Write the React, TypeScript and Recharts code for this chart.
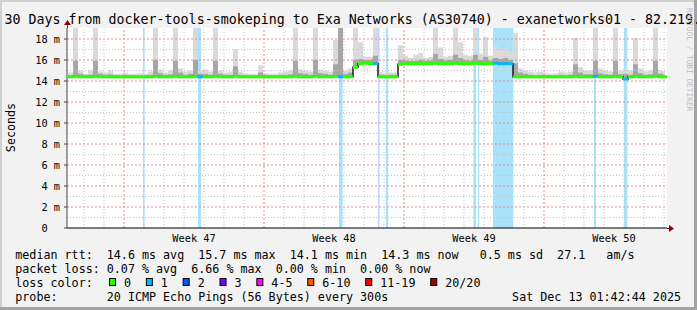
import React from 'react';
import {
  ComposedChart,
  XAxis,
  YAxis,
  Area,
  Line,
  Scatter,
  ReferenceArea,
  ReferenceLine,
  CartesianGrid,
} from 'recharts';

const MONO = "'DejaVu Sans Mono', monospace";

// ---------- data ----------
const weekLabels = ['Week 47', 'Week 48', 'Week 49', 'Week 50'];
const yTickValues = [0, 2, 4, 6, 8, 10, 12, 14, 16, 18];

// one sample every 6 hours over 30 days (median rtt, ms)
const medianMs = [
  14.4, 14.45, 14.4, 14.4, 14.4, 14.45, 14.4, 14.4, 14.4, 14.4,
  14.4, 14.4, 14.4, 14.4, 14.4, 14.4, 14.4, 14.45, 14.4, 14.4,
  14.4, 14.45, 14.4, 14.4, 14.4, 14.45, 14.4, 14.4, 14.4, 14.45,
  14.4, 14.4, 14.4, 14.45, 14.4, 14.4, 14.4, 14.4, 14.4, 14.4,
  14.4, 14.4, 14.4, 14.4, 14.4, 14.45, 14.4, 14.4, 14.4, 14.45,
  14.4, 14.4, 14.4, 14.45, 14.4, 14.4, 14.4, 15.3, 15.65, 15.7,
  15.65, 15.65, 14.4, 14.4, 14.4, 14.4, 15.6, 15.65, 15.65, 15.65,
  15.65, 15.65, 15.65, 15.7, 15.65, 15.65, 15.65, 15.7, 15.65, 15.65,
  15.65, 15.7, 15.65, 15.65, 15.65, 15.7, 15.65, 15.65, 15.65, 14.4,
  14.4, 14.4, 14.4, 14.4, 14.4, 14.4, 14.4, 14.4, 14.4, 14.4,
  14.4, 14.45, 14.4, 14.4, 14.4, 14.45, 14.4, 14.4, 14.4, 14.45,
  14.4, 14.2, 14.4, 14.45, 14.4, 14.4, 14.4, 14.45, 14.4, 14.4,
];

// top of the dense (darker) smoke, ms
const smokeMidMs = [
  14.55, 15.9, 14.7, 14.55, 14.6, 15.9, 14.7, 14.6, 14.65, 14.55,
  14.55, 14.6, 14.55, 14.55, 14.55, 14.55, 14.6, 16.0, 14.75, 14.6,
  14.65, 15.9, 14.8, 14.6, 14.7, 16.0, 14.7, 14.7, 14.6, 15.9,
  14.7, 14.6, 14.6, 15.4, 14.6, 14.55, 14.55, 14.55, 14.8, 14.55,
  14.55, 14.55, 14.6, 14.6, 14.65, 15.9, 14.75, 14.7, 14.6, 16.0,
  14.75, 14.7, 14.6, 15.6, 19.5, 14.7, 14.8, 16.0, 16.1, 16.0,
  16.0, 16.4, 14.6, 14.55, 14.6, 14.6, 16.0, 15.95, 15.9, 15.9,
  16.0, 15.9, 15.95, 16.6, 16.1, 15.95, 16.0, 16.5, 16.2, 16.0,
  15.95, 16.5, 16.0, 16.3, 15.95, 16.2, 16.1, 16.2, 16.0, 15.7,
  14.8, 14.7, 14.6, 14.55, 14.6, 14.55, 14.55, 14.55, 14.6, 14.55,
  14.6, 15.6, 14.8, 14.65, 14.65, 15.9, 14.75, 14.65, 14.6, 15.9,
  14.65, 14.7, 14.6, 15.6, 14.75, 14.6, 14.65, 15.9, 14.7, 14.6,
];

// max of the smoke, ms
const smokeHiMs = [
  14.8, 19.5, 15.0, 14.7, 15.0, 19.5, 14.9, 14.8, 15.0, 14.7,
  14.7, 14.8, 14.7, 14.7, 14.75, 14.7, 14.9, 19.5, 15.1, 14.8,
  15.0, 19.5, 15.2, 14.9, 15.0, 19.5, 15.0, 15.1, 14.9, 19.5,
  15.0, 14.8, 14.9, 17.0, 14.9, 14.75, 14.7, 14.7, 15.5, 14.75,
  14.7, 14.7, 14.8, 14.9, 15.0, 19.5, 15.1, 15.0, 14.9, 19.5,
  15.1, 15.0, 14.9, 17.9, 19.5, 15.0, 15.2, 19.5, 17.7, 16.3,
  16.3, 19.5, 14.9, 14.75, 14.8, 14.8, 17.4, 16.4, 16.2, 16.5,
  16.7, 16.2, 16.3, 19.5, 17.2, 16.3, 16.4, 19.5, 17.7, 16.5,
  16.4, 19.5, 16.6, 18.2, 16.4, 17.3, 17.0, 17.2, 16.8, 18.6,
  15.2, 15.0, 14.9, 14.8, 14.9, 14.8, 14.7, 14.75, 14.9, 14.8,
  14.9, 18.1, 15.3, 15.0, 15.0, 19.5, 15.2, 15.0, 14.9, 19.5,
  15.0, 15.1, 15.0, 18.1, 15.2, 14.9, 15.0, 19.5, 15.0, 14.9,
];

// lost pings (of 20) per sample
const lossCount = [
  0, 0, 0, 0, 0, 0, 0, 0, 0, 0,
  0, 0, 0, 0, 0, 0, 0, 0, 0, 0,
  0, 0, 0, 0, 0, 0, 1, 0, 0, 0,
  0, 0, 0, 0, 0, 0, 0, 0, 0, 0,
  0, 0, 0, 0, 0, 0, 0, 0, 0, 0,
  0, 0, 0, 0, 1, 0, 0, 0, 0, 0,
  0, 1, 0, 0, 0, 0, 0, 0, 0, 0,
  0, 0, 0, 0, 0, 0, 0, 0, 0, 0,
  0, 0, 0, 0, 0, 1, 1, 1, 1, 0,
  0, 0, 0, 0, 0, 0, 0, 0, 0, 0,
  0, 0, 0, 0, 0, 1, 0, 0, 0, 0,
  0, 1, 0, 0, 0, 0, 0, 0, 0, 0,
];

// loss background periods: [start day, end day, lost pings]
const lossBands: [number, number, number][] = [
  [3.8, 3.88, 1],
  [6.55, 6.7, 1],
  [13.6, 13.78, 1],
  [15.56, 15.62, 2],
  [15.94, 16.06, 1],
  [20.32, 20.45, 1],
  [20.54, 20.61, 1],
  [21.3, 22.32, 1],
  [26.35, 26.45, 1],
  [27.85, 28.02, 1],
];

const lossLegendLabels = ['0', '1', '2', '3', '4-5', '6-10', '11-19', '20/20'];
const lossLegendColors = ['#26ff00', '#00b8ff', '#0059ff', '#7e00ff', '#ff00ff', '#ff5500', '#ff0000', '#a10000'];
const lossLegendMax = [0, 1, 2, 3, 5, 10, 19, 20];

// ---------- derived ----------
const SAMPLE_DAYS = 0.25;
const SAMPLE_OFFSET = 0.05;
const Y_MAX = 19.05;
const FIRST_WEEK_LINE = 2.85;

const rows: any[] = medianMs.map((m, i) => ({
  t: SAMPLE_OFFSET + SAMPLE_DAYS * i,
  median: m,
  loss: lossCount[i],
  hiBand: [m, smokeHiMs[i]],
  midBand: [m, smokeMidMs[i]],
}));
{
  const last = rows[rows.length - 1];
  rows.push({ ...last, t: 29.9, tail: true });
}

const lossColor = (n: number) => {
  for (let i = 0; i < lossLegendMax.length; i++) if (n <= lossLegendMax[i]) return lossLegendColors[i];
  return lossLegendColors[lossLegendColors.length - 1];
};
const bandFill = (n: number) => (n <= 1 ? '#a9e3fb' : '#b2c6ff');

const weekTicks = weekLabels.map((_, i) => FIRST_WEEK_LINE + 3.5 + 7 * i);
const dayLines = Array.from({ length: 30 }, (_, i) => FIRST_WEEK_LINE - 2 + i).filter((d) => d > 0 && d < 30);
const msLines = Array.from({ length: 18 }, (_, i) => i + 1);
const isWeekLine = (d: number) => {
  const w = (d - FIRST_WEEK_LINE) / 7;
  return Math.abs(w - Math.round(w)) < 1e-6;
};

const XTick = (p: any) => (
  <text x={p.x} y={p.y + 14} textAnchor="middle" fontFamily={MONO} fontSize={10.3} fill="#000">
    {weekLabels[weekTicks.indexOf(p.payload.value)]}
  </text>
);

const DayTick = (p: any) => {
  const major = isWeekLine(p.payload.value);
  return <line x1={p.x} x2={p.x} y1={229} y2={major ? 232 : 231} stroke={major ? '#d04040' : '#b0b0b0'} strokeWidth={1} />;
};

const YTick = (p: any) => {
  const v = p.payload.value;
  return (
    <text x={v === 0 ? p.x - 12.4 : p.x} y={p.y} dy="0.36em" textAnchor="end" fontFamily={MONO} fontSize={10.3} fill="#000">
      {v === 0 ? '0' : `${v} m`}
    </text>
  );
};

const MedianDash = (p: any) => {
  if (p.payload?.tail || p.cx == null) return <g />;
  return <rect x={p.cx} y={p.cy - 1.5} width={5} height={3} fill={lossColor(p.payload.loss)} />;
};

const statsLine1 = 'median rtt:  14.6 ms avg  15.7 ms max  14.1 ms min  14.3 ms now   0.5 ms sd  27.1   am/s';
const statsLine2 = 'packet loss: 0.07 % avg  6.66 % max  0.00 % min  0.00 % now';
const probeLine = 'probe:       20 ICMP Echo Pings (56 Bytes) every 300s';
const dateText = 'Sat Dec 13 01:42:44 2025';
const titleText = '30 Days from docker-tools-smokeping to Exa Networks (AS30740) - exanetworks01 - 82.219.';

export default function App() {
  const legendItems: { sx: number; lx: number; label: string; color: string }[] = [];
  let x = 109;
  lossLegendLabels.forEach((label, i) => {
    legendItems.push({ sx: x, lx: x + 15, label, color: lossLegendColors[i] });
    x = x + 15 + label.length * 7.04 + 14.8;
  });

  return (
    <div style={{ position: 'absolute', left: 0, top: 0, width: 697, height: 310, background: '#f2f2f2', overflow: 'hidden' }}>
      <ComposedChart width={697} height={310} data={rows} margin={{ top: 28, right: 30, bottom: 62, left: 0 }}>
        <CartesianGrid horizontal={false} vertical={false} fill="#ffffff" stroke="none" />
        {lossBands.map((b, i) => (
          <ReferenceArea key={'b' + i} x1={b[0]} x2={b[1]} y1={0} y2={Y_MAX} fill={bandFill(b[2])} fillOpacity={1} stroke="none" ifOverflow="hidden" />
        ))}
        <Area type="stepAfter" dataKey="hiBand" stroke="none" fill="#dadada" fillOpacity={1} isAnimationActive={false} dot={false} activeDot={false} />
        <Area type="stepAfter" dataKey="midBand" stroke="none" fill="#a6a6a6" fillOpacity={1} isAnimationActive={false} dot={false} activeDot={false} />
        {msLines.map((v) => (
          <ReferenceLine
            key={'h' + v}
            y={v}
            stroke={v % 2 === 0 ? '#e08c8c' : '#c4c4c4'}
            strokeWidth={1}
            strokeDasharray={v % 2 === 0 ? '2 2' : '1 2'}
            ifOverflow="visible"
          />
        ))}
        {dayLines.map((d, i) => (
          <ReferenceLine
            key={'v' + i}
            x={d}
            stroke={isWeekLine(d) ? '#e08c8c' : '#c4c4c4'}
            strokeWidth={1}
            strokeDasharray={isWeekLine(d) ? '2 2' : '1 2'}
            ifOverflow="visible"
          />
        ))}
        <Line type="stepAfter" dataKey="median" stroke="#1a1a1a" strokeWidth={1.5} dot={false} activeDot={false} isAnimationActive={false} />
        <Scatter dataKey="median" shape={MedianDash} isAnimationActive={false} />
        <XAxis
          dataKey="t"
          type="number"
          domain={[0, 30]}
          allowDataOverflow
          ticks={weekTicks}
          interval={0}
          tick={XTick}
          tickLine={false}
          tickSize={0}
          tickMargin={0}
          height={20}
          axisLine={{ stroke: '#000', strokeWidth: 1 }}
        />
        <XAxis
          xAxisId="days"
          dataKey="t"
          type="number"
          domain={[0, 30]}
          allowDataOverflow
          ticks={dayLines}
          interval={0}
          tick={DayTick}
          tickLine={false}
          tickSize={0}
          tickMargin={0}
          height={0}
          axisLine={false}
        />
        <YAxis
          type="number"
          domain={[0, Y_MAX]}
          allowDataOverflow
          ticks={yTickValues}
          interval={0}
          tick={YTick}
          tickSize={3}
          tickMargin={4}
          tickLine={{ stroke: '#444' }}
          width={67}
          axisLine={{ stroke: '#444', strokeWidth: 1 }}
        />
      </ComposedChart>

      <svg width={697} height={310} style={{ position: 'absolute', left: 0, top: 0, pointerEvents: 'none' }}>
        {/* borders */}
        <rect x={0} y={0} width={697} height={2} fill="#cfcfcf" />
        <rect x={0} y={0} width={2} height={310} fill="#cfcfcf" />
        <rect x={694} y={0} width={3} height={310} fill="#a3a3a3" />
        <rect x={0} y={307} width={697} height={3} fill="#a3a3a3" />

        {/* axis arrows */}
        <line x1={667} y1={228.5} x2={670} y2={228.5} stroke="#000" strokeWidth={1} />
        <line x1={67.5} y1={24} x2={67.5} y2={28} stroke="#444" strokeWidth={1} />
        <polygon points="669,225 674,228.5 669,232" fill="#9b0000" />
        <polygon points="64,25 67.5,20 71,25" fill="#9b0000" />

        {/* title */}
        <text x={4.5} y={24} fontFamily={MONO} fontSize={13.3} fill="#000" style={{ whiteSpace: 'pre' }}>
          {titleText}
        </text>

        {/* axis title */}
        <text transform="translate(15,127.5) rotate(-90)" textAnchor="middle" fontFamily={MONO} fontSize={11.7} fill="#000">
          Seconds
        </text>

        {/* watermark */}
        <text transform="translate(686.5,8) rotate(90)" fontFamily={MONO} fontSize={7.8} fill="#bdbdbd">
          RRDTOOL / TOBI OETIKER
        </text>

        {/* legend */}
        <text x={15.3} y={258.5} fontFamily={MONO} fontSize={11.7} fill="#000" style={{ whiteSpace: 'pre' }}>
          {statsLine1}
        </text>
        <text x={15.3} y={272.5} fontFamily={MONO} fontSize={11.7} fill="#000" style={{ whiteSpace: 'pre' }}>
          {statsLine2}
        </text>
        <text x={15.3} y={286.5} fontFamily={MONO} fontSize={11.7} fill="#000" style={{ whiteSpace: 'pre' }}>
          loss color:
        </text>
        {legendItems.map((it, i) => (
          <g key={'lg' + i}>
            <rect x={it.sx + 0.5} y={278.5} width={6} height={7} fill={it.color} stroke="#000" strokeWidth={1} />
            <text x={it.lx} y={286.5} fontFamily={MONO} fontSize={11.7} fill="#000">
              {it.label}
            </text>
          </g>
        ))}
        <text x={15.3} y={300.5} fontFamily={MONO} fontSize={11.7} fill="#000" style={{ whiteSpace: 'pre' }}>
          {probeLine}
        </text>
        <text x={681} y={300.5} textAnchor="end" fontFamily={MONO} fontSize={11.7} fill="#000" style={{ whiteSpace: 'pre' }}>
          {dateText}
        </text>
      </svg>
    </div>
  );
}
